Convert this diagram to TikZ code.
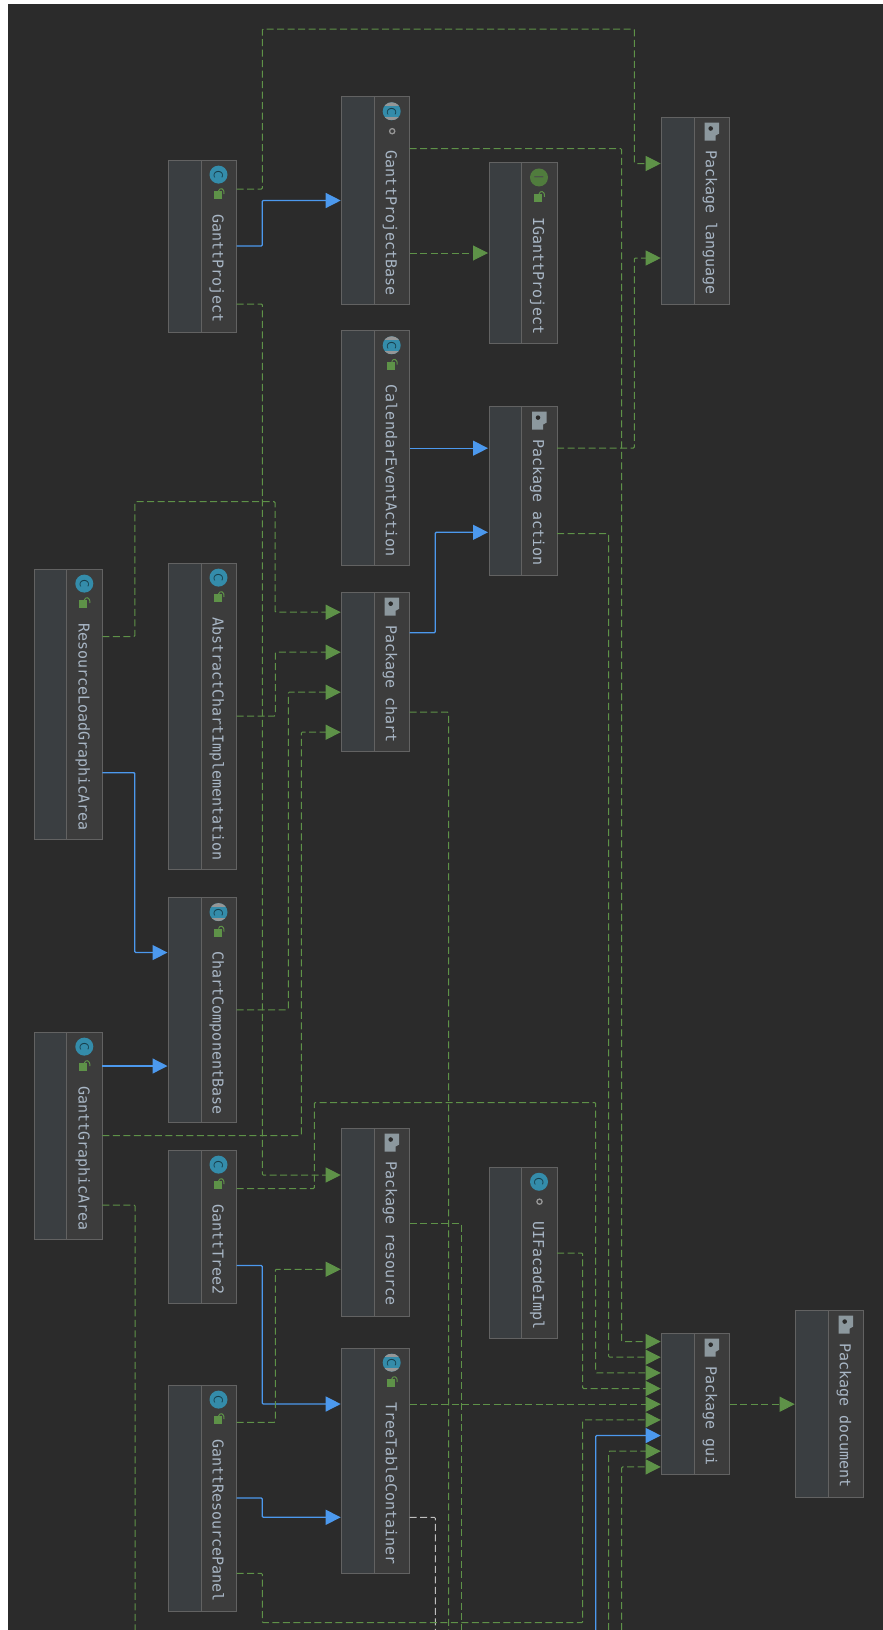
\documentclass[tikz,border=0pt]{standalone}
\usepackage{fontspec}
\usepackage{xcolor}
\setmonofont{DejaVu Sans Mono}
\usepackage{tikz}
\usetikzlibrary{arrows.meta,positioning,shapes.geometric}
\definecolor{umlback}{RGB}{43,43,43}
\definecolor{umlfill}{RGB}{60,60,60}
\definecolor{umlstripe}{RGB}{58,62,65}
\definecolor{umledge}{RGB}{98,98,98}
\definecolor{umltext}{RGB}{169,183,198}
\definecolor{umlgreen}{RGB}{94,146,72}
\definecolor{umlblue}{RGB}{76,153,238}
\definecolor{umlwhite}{RGB}{190,190,190}
\definecolor{umlteal}{RGB}{52,140,170}
\definecolor{umlcap}{RGB}{150,150,150}
\definecolor{umlpkg}{RGB}{140,152,158}

\begin{document}
\begin{tikzpicture}[
  x=1pt, y=1pt,
  box/.style={rectangle, draw=umledge, fill=umlfill, line width=1pt,
              minimum width=68pt, outer sep=0pt, inner sep=0pt,
              path picture={
                \fill[umlstripe] (path picture bounding box.north west) rectangle
                  ([xshift=32.5pt]path picture bounding box.south west);
                \draw[umledge, line width=0.8pt] ([xshift=32.5pt]path picture bounding box.north west) --
                  ([xshift=32.5pt]path picture bounding box.south west);}},
  title/.style={font=\ttfamily\fontsize{15}{15}\selectfont, text=umltext,
                rotate=-90, anchor=base west, inner sep=0pt},
  cicon/.style={circle, fill=umlteal, minimum size=18pt, inner sep=0pt,
                text=umlteal!45!black,
                font=\sffamily\fontsize{13}{13}\selectfont},
  absicon/.style={cicon, path picture={
                \fill[umlcap] ([yshift=-3.5pt]path picture bounding box.north west) rectangle
                  (path picture bounding box.north east);
                \fill[umlcap] ([yshift=3.5pt]path picture bounding box.south west) rectangle
                  (path picture bounding box.south east);}},
  iicon/.style={cicon, fill=umlgreen!85!black, text=black!70},
  dep/.style={-{Triangle[length=15pt,width=15pt]}, line width=1pt, draw=umlgreen,
              dash pattern=on 7pt off 3.5pt, rounded corners=1pt, shorten >=1pt},
  inherit/.style={-{Triangle[length=15pt,width=15pt]}, line width=1.3pt, draw=umlblue,
                  rounded corners=1pt, shorten >=1pt},
  deptail/.style={line width=1pt, draw=umlgreen, dash pattern=on 7pt off 3.5pt, rounded corners=1pt},
  hidden/.style={line width=1pt, draw=umlwhite, dash pattern=on 7pt off 3.5pt, rounded corners=1pt},
  lockicon/.pic={
    \fill[umlgreen] (-4,-4) rectangle (4,4);
    \draw[umlgreen, line width=1pt] (1,4) .. controls (2,7.5) and (7,7.5) .. (6.5,1);},
  doticon/.pic={
    \draw[umlcap, line width=1.3pt] (0,0) circle (2.6);},
  pkgicon/.pic={
    \fill[umlpkg] (0,0) -- (14.5,0) -- (14.5,-11) -- (11,-13) -- (11,-18) -- (0,-18) -- cycle;
    \fill[umlback] (6,-6) circle (2.3);}
]

\useasboundingbox (0,0) rectangle (883,-1630);
\fill[umlback] (8,-4) rectangle (883,-1630);

% --- Boxes, upper part ---
\node[box, minimum height=172pt] (ganttproject) at (202.5,-246) {};
\node[box, right=105.2pt of ganttproject, yshift=45.5pt, minimum height=207.6pt] (ganttprojectbase) {};
\node[box, right=79.3pt of ganttprojectbase, yshift=-52.5pt, minimum height=180.3pt] (igantt) {};
\node[box, right=104.7pt of igantt, yshift=42.25pt, minimum height=186.5pt] (language) {};
\node[box, below=26.4pt of ganttprojectbase, minimum height=235pt] (calendar) {};
\node[box, right=79.3pt of calendar, yshift=-42.6pt, minimum height=168.4pt] (action) {};
\node[box, below=27pt of calendar, minimum height=159pt] (chart) {};
\node[box, left=105.2pt of chart, yshift=-43.8pt, minimum height=306pt] (abstractchart) {};
\node[box, left=66.2pt of abstractchart, yshift=12pt, minimum height=270pt] (resourceload) {};

% --- Boxes, lower part ---
\node[box, below=28.5pt of abstractchart, minimum height=224.5pt] (chartcomp) {};
\node[box, left=66.2pt of chartcomp, yshift=-125.75pt, minimum height=207pt] (graphicarea) {};
\node[box, below=28pt of chartcomp, minimum height=153pt] (gantttree) {};
\node[box, right=105.2pt of gantttree, yshift=4.25pt, minimum height=187.5pt] (resource) {};
\node[box, right=79.3pt of resource, yshift=-30.75pt, minimum height=171.7pt] (uifacade) {};
\node[box, below=32pt of resource, minimum height=225pt] (treetable) {};
\node[box, left=105.2pt of treetable, yshift=-37.5pt, minimum height=226pt] (resourcepanel) {};
\node[box, right=252pt of treetable, yshift=56.3pt, minimum height=141pt] (gui) {};
\node[box, right=66pt of gui, minimum height=187.3pt] (document) {};

% --- Titles ---
\node[title] (ganttproject-t) at ([xshift=44.2pt,yshift=-54pt]ganttproject.north west) {GanttProject};
\node[title] (ganttprojectbase-t) at ([xshift=44.2pt,yshift=-54pt]ganttprojectbase.north west) {GanttProjectBase};
\node[title] (igantt-t) at ([xshift=44.2pt,yshift=-54pt]igantt.north west) {IGanttProject};
\node[title] (language-t) at ([xshift=44.2pt,yshift=-32.5pt]language.north west) {Package language};
\node[title] (calendar-t) at ([xshift=44.2pt,yshift=-54pt]calendar.north west) {CalendarEventAction};
\node[title] (action-t) at ([xshift=44.2pt,yshift=-32.5pt]action.north west) {Package action};
\node[title] (chart-t) at ([xshift=44.2pt,yshift=-32.5pt]chart.north west) {Package chart};
\node[title] (abstractchart-t) at ([xshift=44.2pt,yshift=-54pt]abstractchart.north west) {AbstractChartImplementation};
\node[title] (resourceload-t) at ([xshift=44.2pt,yshift=-54pt]resourceload.north west) {ResourceLoadGraphicArea};
\node[title] (chartcomp-t) at ([xshift=44.2pt,yshift=-54pt]chartcomp.north west) {ChartComponentBase};
\node[title] (graphicarea-t) at ([xshift=44.2pt,yshift=-54pt]graphicarea.north west) {GanttGraphicArea};
\node[title] (gantttree-t) at ([xshift=44.2pt,yshift=-54pt]gantttree.north west) {GanttTree2};
\node[title] (resource-t) at ([xshift=44.2pt,yshift=-32.5pt]resource.north west) {Package resource};
\node[title] (uifacade-t) at ([xshift=44.2pt,yshift=-54pt]uifacade.north west) {UIFacadeImpl};
\node[title] (treetable-t) at ([xshift=44.2pt,yshift=-54pt]treetable.north west) {TreeTableContainer};
\node[title] (resourcepanel-t) at ([xshift=44.2pt,yshift=-54pt]resourcepanel.north west) {GanttResourcePanel};
\node[title] (gui-t) at ([xshift=44.2pt,yshift=-32.5pt]gui.north west) {Package gui};
\node[title] (document-t) at ([xshift=44.2pt,yshift=-32.5pt]document.north west) {Package document};

% --- Class icons ---
\node[cicon] (ganttproject-i) at ([xshift=50pt,yshift=-14.6pt]ganttproject.north west) {\rotatebox{-90}{C}};
\node[absicon] (ganttprojectbase-i) at ([xshift=50pt,yshift=-14.6pt]ganttprojectbase.north west) {\rotatebox{-90}{C}};
\node[iicon] (igantt-i) at ([xshift=50pt,yshift=-14.6pt]igantt.north west) {\rotatebox{-90}{I}};
\node[absicon] (calendar-i) at ([xshift=50pt,yshift=-14.6pt]calendar.north west) {\rotatebox{-90}{C}};
\node[cicon] (abstractchart-i) at ([xshift=50pt,yshift=-14.6pt]abstractchart.north west) {\rotatebox{-90}{C}};
\node[cicon] (resourceload-i) at ([xshift=50pt,yshift=-14.6pt]resourceload.north west) {\rotatebox{-90}{C}};
\node[absicon] (chartcomp-i) at ([xshift=50pt,yshift=-14.6pt]chartcomp.north west) {\rotatebox{-90}{C}};
\node[cicon] (graphicarea-i) at ([xshift=50pt,yshift=-14.6pt]graphicarea.north west) {\rotatebox{-90}{C}};
\node[cicon] (gantttree-i) at ([xshift=50pt,yshift=-14.6pt]gantttree.north west) {\rotatebox{-90}{C}};
\node[cicon] (uifacade-i) at ([xshift=50pt,yshift=-14.6pt]uifacade.north west) {\rotatebox{-90}{C}};
\node[absicon] (treetable-i) at ([xshift=50pt,yshift=-14.6pt]treetable.north west) {\rotatebox{-90}{C}};
\node[cicon] (resourcepanel-i) at ([xshift=50pt,yshift=-14.6pt]resourcepanel.north west) {\rotatebox{-90}{C}};

% --- Visibility marks ---
\pic at ([xshift=49pt,yshift=-35pt]ganttproject.north west) {lockicon};
\pic at ([xshift=50.5pt,yshift=-34.5pt]ganttprojectbase.north west) {doticon};
\pic at ([xshift=49pt,yshift=-35pt]igantt.north west) {lockicon};
\pic at ([xshift=49pt,yshift=-35pt]calendar.north west) {lockicon};
\pic at ([xshift=49pt,yshift=-35pt]abstractchart.north west) {lockicon};
\pic at ([xshift=49pt,yshift=-35pt]resourceload.north west) {lockicon};
\pic at ([xshift=49pt,yshift=-35pt]chartcomp.north west) {lockicon};
\pic at ([xshift=49pt,yshift=-35pt]graphicarea.north west) {lockicon};
\pic at ([xshift=49pt,yshift=-35pt]gantttree.north west) {lockicon};
\pic at ([xshift=50.5pt,yshift=-34.5pt]uifacade.north west) {doticon};
\pic at ([xshift=49pt,yshift=-35pt]treetable.north west) {lockicon};
\pic at ([xshift=49pt,yshift=-35pt]resourcepanel.north west) {lockicon};

% --- Package icons ---
\pic at ([xshift=43pt,yshift=-5pt]language.north west) {pkgicon};
\pic at ([xshift=43pt,yshift=-5pt]action.north west) {pkgicon};
\pic at ([xshift=43pt,yshift=-5pt]chart.north west) {pkgicon};
\pic at ([xshift=43pt,yshift=-5pt]resource.north west) {pkgicon};
\pic at ([xshift=43pt,yshift=-5pt]gui.north west) {pkgicon};
\pic at ([xshift=43pt,yshift=-5pt]document.north west) {pkgicon};

% --- Free ends at the lower edge ---
\coordinate (graphicend) at (135,-1630);
\coordinate (hiddenend) at (435.3,-1630);
\coordinate (chartend) at (448.7,-1630);
\coordinate (resourceend) at (461.5,-1630);
\coordinate (blueend) at (595.7,-1630);
\coordinate (middleend) at (608.7,-1630);
\coordinate (rightend) at (621.7,-1630);

% --- Arrows, upper part ---
\draw[dep] ([yshift=57pt]ganttproject.east) -- ++(25.8,0) -- ++(0,160) -- ++(372.1,0) |- ([yshift=47.25pt]language.west);
\draw[inherit] (ganttproject.east) -- ++(25.8,0) |- (ganttprojectbase.west);
\draw[dep] ([yshift=-58pt]ganttproject.east) -- ++(25.8,0) |- ([yshift=47.25pt]resource.west);
\draw[dep] ([yshift=-52.5pt]ganttprojectbase.east) -- (igantt.west);
\draw[dep] ([yshift=51.8pt]ganttprojectbase.east) -- ++(212,0) |- ([yshift=62.7pt]gui.west);
\draw[inherit] (calendar.east) -- ([yshift=42.6pt]action.west);
\draw[dep] ([yshift=42.8pt]action.east) -- ++(77.4,0) |- ([yshift=-47.25pt]language.west);
\draw[dep] ([yshift=-42.7pt]action.east) -- ++(51.7,0) |- ([yshift=47pt]gui.west);
\draw[dep] ([yshift=67.5pt]resourceload.east) -- ++(32.5,0) -- ++(0,134.8) -- ++(140.3,0) |- ([yshift=60pt]chart.west);
\draw[inherit] ([yshift=-68.7pt]resourceload.east) -- ++(32.5,0) |- ([yshift=57.2pt]chartcomp.west);
\draw[dep] (abstractchart.east) -- ++(38.8,0) |- ([yshift=20pt]chart.west);
\draw[dep] (chartcomp.east) -- ++(51.8,0) |- ([yshift=-20pt]chart.west);
\draw[dep] (graphicarea.east) -- ++(199,0) |- ([yshift=-60pt]chart.west);
\draw[inherit] ([yshift=69.5pt]graphicarea.east) -- ([yshift=-56.25pt]chartcomp.west);
\draw[deptail] ([yshift=-69.5pt]graphicarea.east) -| (graphicend);
\draw[inherit] ([yshift=39.5pt]chart.east) -- ++(25.6,0) |- ([yshift=-41.5pt]action.west);
\draw[deptail] ([yshift=-40pt]chart.east) -| (chartend);

% --- Arrows, lower part ---
\draw[dep] ([yshift=38pt]gantttree.east) -- ++(77.8,0) -- ++(0,86) -- ++(281.4,0) |- ([yshift=31.3pt]gui.west);
\draw[inherit] ([yshift=-39pt]gantttree.east) -- ++(25.8,0) |- ([yshift=56.5pt]treetable.west);
\draw[deptail] ([yshift=-1pt]resource.east) -| (resourceend);
\draw[dep] (uifacade.east) -- ++(25.7,0) |- ([yshift=15.7pt]gui.west);
\draw[dep] ([yshift=56.3pt]treetable.east) -- (gui.west);
\draw[hidden] ([yshift=-56.8pt]treetable.east) -| (hiddenend);
\draw[dep] ([yshift=75.7pt]resourcepanel.east) -- ++(38.8,0) |- ([yshift=-47pt]resource.west);
\draw[inherit] (resourcepanel.east) -- ++(25.8,0) |- ([yshift=-56.8pt]treetable.west);
\draw[dep] ([yshift=-75.3pt]resourcepanel.east) -- ++(25.8,0) -- ++(0,-49.4) -- ++(320.4,0) |- ([yshift=-15.7pt]gui.west);
\draw[inherit] (blueend) |- ([yshift=-31.3pt]gui.west);
\draw[dep] (middleend) |- ([yshift=-47pt]gui.west);
\draw[dep] (rightend) |- ([yshift=-62.7pt]gui.west);
\draw[dep] (gui.east) -- (document.west);

\end{tikzpicture}
\end{document}
